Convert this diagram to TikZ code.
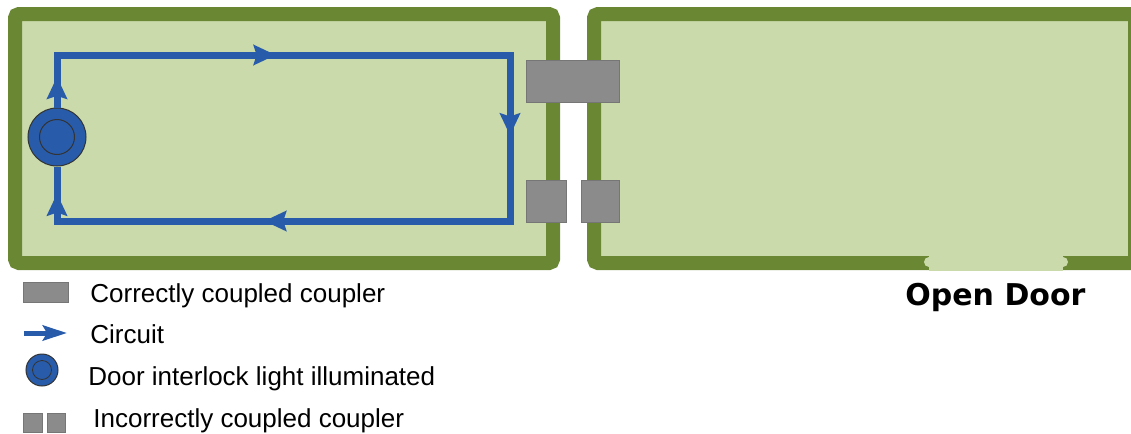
\documentclass[tikz,border=0pt]{standalone}
\usepackage{fontspec}
\setmainfont{Liberation Sans}
\newfontfamily\doorfont{DejaVu Sans}
\usetikzlibrary{arrows.meta, positioning, decorations.markings}

\definecolor{carfill}{RGB}{202,218,170}
\definecolor{carline}{RGB}{106,136,52}
\definecolor{couplergray}{RGB}{139,139,139}
\definecolor{circuitblue}{RGB}{40,92,170}

\tikzset{
  car/.style={fill=carfill, draw=carline, line width=7pt, rounded corners=2pt},
  coupler/.style={fill=couplergray, draw=couplergray!85!black, line width=0.4pt},
  circuit/.style={draw=circuitblue, line width=3.5pt, line join=miter},
  cirtip/.tip={Stealth[length=11pt, width=10pt, inset=1.5pt]},
  legtip/.tip={Stealth[length=12pt, width=7.5pt, inset=2pt]},
  lamp/.style={circle, fill=circuitblue, draw=black!80, line width=0.5pt, inner sep=0pt},
  legtext/.style={anchor=base west, inner sep=0pt, font=\fontsize{13pt}{15pt}\selectfont}
}

\begin{document}
\begin{tikzpicture}[x=0.5pt, y=-0.5pt]
    \useasboundingbox (0,0) rectangle (1131,434);

    % Cars
    \draw[car] (15,14) rectangle (553,263);
    \draw[car] (594,14) rectangle (1135,263);

    % Open door in the right car
    \fill[carfill] (929,254) rectangle (1063,271);
    \fill[carfill] (929,262) circle[radius=5];
    \fill[carfill] (1063,262) circle[radius=5];

    % Couplers
    \filldraw[coupler] (526,60) rectangle (619,102);
    \filldraw[coupler] (526,180) rectangle (566,222);
    \filldraw[coupler] (581,180) rectangle (619,222);

    % Door interlock light
    \node[lamp, minimum size=29pt] (lamp) at (57,137) {};
    \draw[black!80, line width=0.5pt] (lamp.center) circle[radius=17.5];

    % Circuit
    \coordinate (tl) at (57,55);
    \coordinate (tr) at (510,55);
    \coordinate (br) at (510,221);
    \coordinate (bl) at (57,221);
    \draw[circuit, postaction={decorate}, decoration={markings,
        mark=at position 0.026 with {\arrow{cirtip}},
        mark=at position 0.230 with {\arrow{cirtip}},
        mark=at position 0.497 with {\arrow{cirtip}},
        mark=at position 0.778 with {\arrow{cirtip}},
        mark=at position 0.977 with {\arrow{cirtip}}}]
      (lamp.north) -- (tl) -- (tr) -- (br) -- (bl) -- (lamp.south);

    \node[anchor=base west, inner sep=0pt, font=\doorfont\bfseries\fontsize{15pt}{18pt}\selectfont]
      (door) at (905,305) {Open Door};

    % Legend
    \filldraw[coupler] (23,282) rectangle (68,302);
    \coordinate (legA) at (24,333);
    \coordinate (legB) at (67,333);
    \draw[circuitblue, line width=2.5pt, -legtip] (legA) -- (legB);
    \node[lamp, minimum size=16pt] (leglamp) at (42,370) {};
    \draw[black!80, line width=0.4pt] (leglamp.center) circle[radius=9.5];
    \filldraw[coupler] (23,413) rectangle (42,432);
    \filldraw[coupler] (47,413) rectangle (65,432);

    \node[legtext] (l1) at (90,302) {Correctly coupled coupler};
    \node[legtext] (l2) at (90,343) {Circuit};
    \node[legtext] (l3) at (88,385) {Door interlock light illuminated};
    \node[legtext] (l4) at (93,427) {Incorrectly coupled coupler};
\end{tikzpicture}
\end{document}
